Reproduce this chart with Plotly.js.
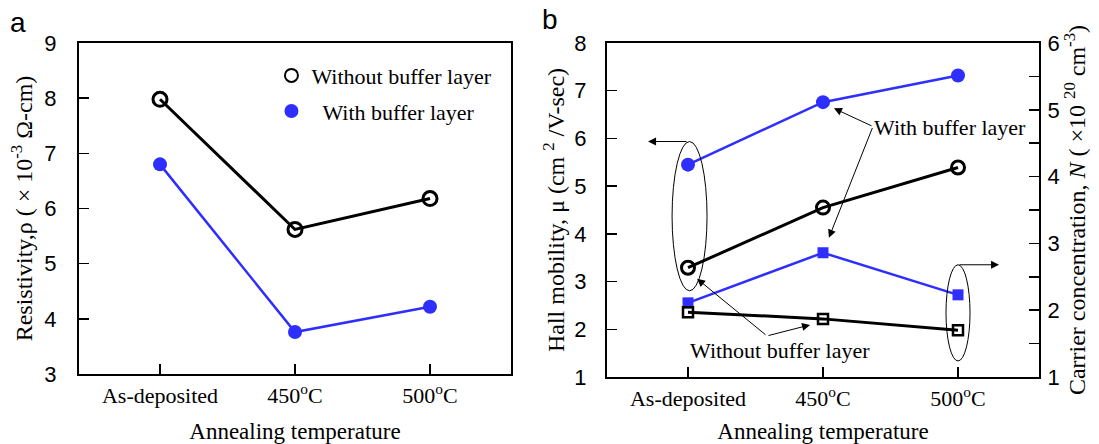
<!DOCTYPE html>
<html><head><meta charset="utf-8">
<script src="https://cdn.plot.ly/plotly-3.0.1.min.js"></script>
<style>html,body{margin:0;padding:0;background:#fff}#chart{width:1099px;height:444px}</style>
</head><body><div id="chart"></div><script>
// ---- data ----
const categories = ['As-deposited', '450oC', '500oC'];
const tickLabels = ['As-deposited', '450<sup>o</sup>C', '500<sup>o</sup>C'];
const resistivityWithout = [7.98, 5.62, 6.18];
const resistivityWith = [6.80, 3.76, 4.22];
const mobilityWith = [5.45, 6.76, 7.32];
const mobilityWithout = [3.29, 4.55, 5.39];
const carrierWith = [2.11, 2.86, 2.23];
const carrierWithout = [1.97, 1.87, 1.70];
const seriesNames = ['Without buffer layer', '\u00a0\u00a0With buffer layer'];

const BLUE = '#2e2eff';
const SERIF = 'Liberation Serif, Times New Roman, serif';
const SANS = 'Liberation Sans, Arial, sans-serif';

const traces = [
  {x: categories, y: resistivityWithout, xaxis: 'x', yaxis: 'y', mode: 'lines+markers', showlegend: false,
   line: {color: '#000', width: 3}, marker: {symbol: 'circle-open', size: 14, color: '#000', line: {width: 3, color: '#000'}}},
  {x: categories, y: resistivityWith, xaxis: 'x', yaxis: 'y', mode: 'lines+markers', showlegend: false,
   line: {color: BLUE, width: 2.5}, marker: {symbol: 'circle', size: 14, color: BLUE}},
  // legend-only entries (marker only, as in the reference)
  {x: [null], y: [null], xaxis: 'x', yaxis: 'y', mode: 'markers', name: seriesNames[0], legendgroup: 'a',
   marker: {symbol: 'circle-open', size: 13, color: '#000', line: {width: 2, color: '#000'}}},
  {x: [null], y: [null], xaxis: 'x', yaxis: 'y', mode: 'markers', name: seriesNames[1], legendgroup: 'b',
   marker: {symbol: 'circle', size: 14, color: BLUE}},
  // panel b
  {x: categories, y: mobilityWith, xaxis: 'x2', yaxis: 'y2', mode: 'lines+markers', showlegend: false,
   line: {color: BLUE, width: 2.5}, marker: {symbol: 'circle', size: 14, color: BLUE}},
  {x: categories, y: mobilityWithout, xaxis: 'x2', yaxis: 'y2', mode: 'lines+markers', showlegend: false,
   line: {color: '#000', width: 3}, marker: {symbol: 'circle-open', size: 13, color: '#000', line: {width: 3, color: '#000'}}},
  {x: categories, y: carrierWith, xaxis: 'x2', yaxis: 'y3', mode: 'lines+markers', showlegend: false,
   line: {color: BLUE, width: 2.5}, marker: {symbol: 'square', size: 11, color: BLUE}},
  {x: categories, y: carrierWithout, xaxis: 'x2', yaxis: 'y3', mode: 'lines+markers', showlegend: false,
   line: {color: '#000', width: 3}, marker: {symbol: 'square-open', size: 10, color: '#000', line: {width: 2.5, color: '#000'}}}
];

const tickFont = {family: SANS, size: 22, color: '#000'};
const catFont = {family: SERIF, size: 22, color: '#000'};
const titleFont = {family: SERIF, size: 23, color: '#000'};
const yTitleFont = {family: SERIF, size: 24, color: '#000'};

function xAxis(domain, anchor) {
  return {domain: domain, anchor: anchor, type: 'category', range: [-0.6, 2.6],
    tickvals: categories, ticktext: tickLabels, tickfont: catFont,
    ticks: 'inside', ticklen: 10, tickwidth: 1.5, tickcolor: '#000', ticklabelstandoff: 1,
    showline: true, linewidth: 2, linecolor: '#000', mirror: true, showgrid: false, zeroline: false,
    title: {text: 'Annealing temperature', font: titleFont, standoff: 15}, automargin: false, fixedrange: true};
}

const layout = {
  width: 1099, height: 444,
  margin: {l: 0, r: 0, t: 0, b: 0},
  paper_bgcolor: '#fff', plot_bgcolor: '#fff',
  showlegend: true,
  legend: {x: 0.247, y: 0.877, xanchor: 'left', yanchor: 'top', font: {family: SERIF, size: 22, color: '#000'},
    bgcolor: 'rgba(0,0,0,0)', borderwidth: 0, traceorder: 'grouped', tracegroupgap: 4, itemwidth: 30},
  xaxis: xAxis([79 / 1099, 511 / 1099], 'y'),
  yaxis: {domain: [1 - 374 / 444, 1 - 43 / 444], anchor: 'x', range: [3, 9], dtick: 1, tickfont: tickFont,
    ticks: 'inside', ticklen: 10, tickwidth: 1.5, tickcolor: '#000', ticklabelstandoff: 16,
    showline: true, linewidth: 2, linecolor: '#000', mirror: true, showgrid: false, zeroline: false,
    title: {text: 'Resistivity,ρ ( × 10<sup>-3</sup> Ω-cm)', font: yTitleFont, standoff: 5}, automargin: false, fixedrange: true},
  xaxis2: xAxis([607 / 1099, 1039 / 1099], 'y2'),
  yaxis2: {domain: [1 - 377 / 444, 1 - 43 / 444], anchor: 'x2', range: [1, 8], dtick: 1, tickfont: tickFont,
    ticks: 'inside', ticklen: 10, tickwidth: 1.5, tickcolor: '#000', ticklabelstandoff: 14,
    showline: true, linewidth: 2, linecolor: '#000', mirror: false, showgrid: false, zeroline: false,
    title: {text: 'Hall mobility, μ (cm <sup>2</sup> /V-sec)', font: yTitleFont, standoff: 3}, automargin: false, fixedrange: true},
  yaxis3: {overlaying: 'y2', side: 'right', anchor: 'x2', range: [1, 6], dtick: 1, tickfont: tickFont,
    ticks: 'inside', ticklen: 10, tickwidth: 1.5, tickcolor: '#000', ticklabelstandoff: 2,
    minor: {dtick: 0.5, ticks: 'inside', ticklen: 10, tickwidth: 1.5, tickcolor: '#000', showgrid: false},
    showline: true, linewidth: 2, linecolor: '#000', showgrid: false, zeroline: false,
    title: {text: 'Carrier concentration, <i>N</i> ( ×10 <sup>20</sup> cm<sup>-3</sup>)', font: yTitleFont, standoff: 2},
    automargin: false, fixedrange: true},
  shapes: [
    {type: 'circle', xref: 'x2', yref: 'y2', x0: -0.118, x1: 0.141, y0: 2.806, y1: 5.935, line: {color: '#000', width: 1}},
    {type: 'circle', xref: 'x2', yref: 'y2', x0: 1.911, x1: 2.089, y0: 1.336, y1: 3.352, line: {color: '#000', width: 1}}
  ],
  annotations: [
    {text: 'a', xref: 'paper', yref: 'paper', x: 18 / 1099, y: 1 - 22 / 444, xanchor: 'center', yanchor: 'middle',
     showarrow: false, font: {family: SANS, size: 28, color: '#000'}},
    {text: 'b', xref: 'paper', yref: 'paper', x: 550 / 1099, y: 1 - 20 / 444, xanchor: 'center', yanchor: 'middle',
     showarrow: false, font: {family: SANS, size: 28, color: '#000'}},
    // ellipse arrows
    {xref: 'x2', yref: 'y2', axref: 'x2', ayref: 'y2', x: -0.296, y: 5.935, ax: 0, ay: 5.935, text: '', showarrow: true,
     arrowhead: 2, arrowsize: 1.6, arrowwidth: 1, arrowcolor: '#000', standoff: 0, startstandoff: 0},
    {xref: 'x2', yref: 'y2', axref: 'x2', ayref: 'y2', x: 2.304, y: 3.352, ax: 2, ay: 3.352, text: '', showarrow: true,
     arrowhead: 2, arrowsize: 1.6, arrowwidth: 1, arrowcolor: '#000', standoff: 0, startstandoff: 0},
    // With buffer layer label + arrows
    {xref: 'x2', yref: 'y2', x: 1.365, y: 6.23, xanchor: 'left', text: 'With buffer layer', showarrow: false,
     font: {family: SERIF, size: 22, color: '#000'}},
    {xref: 'x2', yref: 'y2', axref: 'x2', ayref: 'y2', x: 1.081, y: 6.63, ax: 1.37, ay: 6.25, text: '', showarrow: true,
     arrowhead: 2, arrowsize: 1.6, arrowwidth: 1, arrowcolor: '#000', standoff: 0},
    {xref: 'x2', yref: 'y2', axref: 'x2', ayref: 'y2', x: 1.044, y: 3.92, ax: 1.37, ay: 6.25, text: '', showarrow: true,
     arrowhead: 2, arrowsize: 1.6, arrowwidth: 1, arrowcolor: '#000', standoff: 0},
    // Without buffer layer label + arrows
    {xref: 'x2', yref: 'y2', x: 0.681, y: 1.55, text: 'Without buffer layer', showarrow: false,
     font: {family: SERIF, size: 22, color: '#000'}},
    {xref: 'x2', yref: 'y2', axref: 'x2', ayref: 'y2', x: 0.067, y: 3.058, ax: 0.585, ay: 1.861, text: '', showarrow: true,
     arrowhead: 2, arrowsize: 1.6, arrowwidth: 1, arrowcolor: '#000', standoff: 0},
    {xref: 'x2', yref: 'y2', axref: 'x2', ayref: 'y2', x: 0.904, y: 2.092, ax: 0.585, ay: 1.861, text: '', showarrow: true,
     arrowhead: 2, arrowsize: 1.6, arrowwidth: 1, arrowcolor: '#000', standoff: 0}
  ]
};

Plotly.newPlot('chart', traces, layout, {staticPlot: true, displayModeBar: false});
</script></body></html>
